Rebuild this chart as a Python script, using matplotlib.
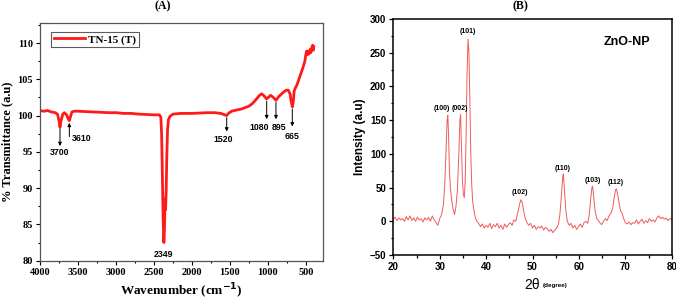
import matplotlib
matplotlib.use("Agg")
import matplotlib.pyplot as plt
from matplotlib.ticker import MultipleLocator

# ---------------- FTIR data (panel A) ----------------
ftir_wn = [4000, 3950, 3900, 3850, 3800, 3770, 3750, 3737, 3725, 3700, 3680, 3650, 3630,
           3614, 3600, 3580, 3550, 3500, 3400, 3300, 3200, 3100, 3000, 2900, 2800, 2700,
           2600, 2500, 2430, 2410, 2400, 2390, 2380, 2370, 2362, 2355, 2348, 2340, 2332,
           2322, 2310, 2290, 2250, 2150, 2000, 1900, 1800, 1700, 1620, 1570, 1545, 1520,
           1480, 1400, 1350, 1300, 1250, 1200, 1150, 1110, 1083, 1050, 1020, 995, 965, 930,
           895, 860, 800, 760, 733, 710, 695, 680, 668, 655, 640, 620, 600, 570, 540, 515,
           500, 490, 480, 470, 460, 447, 435, 425, 412, 405, 398]
ftir_t = [100.7, 100.6, 100.7, 100.5, 100.4, 100.2, 99.3, 98.4, 99.2, 100.2, 100.4, 100.1, 99.6,
          99.3, 99.8, 100.5, 100.6, 100.6, 100.55, 100.5, 100.45, 100.4, 100.4, 100.3, 100.3, 100.2,
          100.15, 100.1, 100.1, 99.8, 97.5, 92.0, 86.0, 82.5, 84.5, 88.5, 87.0, 89.5, 94.0,
          98.0, 99.4, 99.9, 100.2, 100.3, 100.3, 100.35, 100.4, 100.4, 100.3, 100.1, 100.0, 100.3,
          100.6, 100.8, 100.9, 101.1, 101.3, 101.7, 102.3, 102.8, 103.0, 102.7, 102.3, 102.5, 102.8, 102.5,
          102.1, 102.6, 103.2, 103.5, 103.5, 103.0, 102.0, 101.2, 101.8, 103.4, 103.8, 104.2, 104.8, 105.7, 106.6, 107.5,
          108.5, 108.9, 108.4, 108.8, 108.5, 109.1, 108.7, 109.3, 109.7, 109.0, 109.5]

ftir_labels = ["3700", "3610", "1520", "1080", "895", "665", "2349"]

# ---------------- XRD data (panel B) ----------------
xrd_2theta = [20.0, 20.4, 20.8, 21.2, 21.6, 22.0, 22.4, 22.8, 23.2, 23.6, 24.0, 24.4, 24.8, 25.2,
              25.6, 26.0, 26.4, 26.8, 27.2, 27.6, 28.0, 28.4, 28.8, 29.2, 29.6, 30.0, 30.4, 30.8,
              31.1, 31.4, 31.6, 31.75, 31.9, 32.1, 32.3, 32.6, 32.9, 33.2, 33.5, 33.8, 34.1, 34.35,
              34.5, 34.7, 34.9, 35.1, 35.3, 35.5, 35.7, 35.9, 36.1, 36.3, 36.5, 36.7, 36.9, 37.1,
              37.4, 37.7, 38.0, 38.4, 38.8, 39.2, 39.6, 40.0, 40.4, 40.8, 41.2, 41.6, 42.0, 42.4,
              42.8, 43.2, 43.6, 44.0, 44.4, 44.8, 45.2, 45.6, 46.0, 46.4, 46.8, 47.2, 47.5, 47.8,
              48.1, 48.4, 48.8, 49.2, 49.6, 50.0, 50.4, 50.8, 51.2, 51.6, 52.0, 52.4, 52.8, 53.2,
              53.6, 54.0, 54.4, 54.8, 55.2, 55.6, 55.9, 56.2, 56.5, 56.65, 56.9, 57.2, 57.5, 57.9,
              58.3, 58.7, 59.1, 59.5, 59.9, 60.3, 60.7, 61.1, 61.5, 61.9, 62.2, 62.5, 62.8, 62.95,
              63.2, 63.5, 63.8, 64.1, 64.5, 64.9, 65.3, 65.7, 66.1, 66.5, 66.9, 67.3, 67.6, 67.9,
              68.1, 68.4, 68.7, 69.0, 69.3, 69.6, 70.0, 70.4, 70.8, 71.2, 71.6, 72.0, 72.4, 72.8,
              73.2, 73.6, 74.0, 74.4, 74.8, 75.2, 75.6, 76.0, 76.4, 76.8, 77.2, 77.6, 78.0, 78.4,
              78.8, 79.2, 79.6, 80.0]
xrd_int = [3, 6, 1, 5, 2, 4, 0, 7, 2, 8, 1, 5, 0, 6,
           2, 4, -1, 5, 2, 6, 0, 8, 2, -2, -6, 4, 10, 25,
           55, 110, 150, 157, 130, 75, 50, 30, 18, 10, 22, 45, 95, 150,
           158, 110, 60, 40, 35, 60, 130, 220, 270, 250, 180, 100, 55, 30,
           15, 5, 0, -3, -8, -4, -10, -6, -9, -3, -11, -5, -8, -3,
           -10, -6, -12, -4, -9, -5, -2, -6, 2, 0, 12, 25, 32, 28,
           15, 5, -2, -6, -3, -10, -6, -12, -8, -10, -7, -13, -9, -11,
           -15, -12, -17, -13, -10, -4, 10, 35, 65, 70, 45, 15, 0, -6,
           -3, -10, -6, -12, -8, -4, -9, -2, 0, -3, 8, 30, 50, 52,
           35, 15, 5, 2, -2, -5, 0, 4, 1, 8, 12, 20, 35, 47,
           48, 38, 25, 15, 12, 5, -2, -4, -1, -5, -2, -3, 2, -4,
           0, 3, -3, 1, -2, 4, 0, 2, -1, 5, 8, 4, 6, 3,
           5, 1, 4, 3]

hkl_labels = ["(100)", "(002)", "(101)", "(102)", "(110)", "(103)", "(112)"]

# ---------------- Figure ----------------
fig = plt.figure(figsize=(6.76, 3.02), dpi=100)

serif = "Liberation Serif"
sans = "Liberation Sans"

# ---- Panel A ----
axA = fig.add_axes([40/676, 1-260.7/302, 283/676, 238/302])
axA.plot(ftir_wn, ftir_t, color="#ff1a1a", lw=2.0, label="TN-15 (T)")
axA.set_xlim(4000, 276)
axA.set_ylim(80, 112.8)
axA.xaxis.set_major_locator(MultipleLocator(500))
axA.xaxis.set_minor_locator(MultipleLocator(250))
axA.yaxis.set_major_locator(MultipleLocator(5))
axA.yaxis.set_minor_locator(MultipleLocator(2.5))
axA.tick_params(which="both", direction="out", top=False, right=False, width=0.8)
axA.tick_params(which="major", length=3, pad=2)
axA.tick_params(which="minor", length=1.5)
for lab in axA.get_xticklabels() + axA.get_yticklabels():
    lab.set_fontfamily(serif)
    lab.set_fontweight("bold")
    lab.set_fontsize(7.5)
for s in axA.spines.values():
    s.set_color("#555555")
    s.set_linewidth(0.9)
axA.set_xlabel("Wavenumber (cm$^{\\mathbf{-1}}$)", fontfamily=serif, fontweight="bold",
               fontsize=9.5, labelpad=3.5)
axA.set_ylabel("% Transmittance (a.u)", fontfamily=serif, fontweight="bold",
               fontsize=9, labelpad=3)
leg = axA.legend(loc="upper left", prop={"family": serif, "weight": "bold", "size": 8},
                 fancybox=False, edgecolor="#333333", handlelength=2.8, borderpad=0.25,
                 handletextpad=0.3, bbox_to_anchor=(0.02, 0.985))
leg.get_frame().set_linewidth(0.8)

ann_kw = dict(fontfamily=sans, fontweight="bold", fontsize=6.3, ha="center", va="center")
arrow = dict(arrowstyle="-|>", color="black", lw=0.7, mutation_scale=5, shrinkA=0, shrinkB=0)
axA.annotate("", xy=(3737, 95.8), xytext=(3737, 98.2), arrowprops=arrow)
axA.text(3737, 94.9, ftir_labels[0], **ann_kw)
axA.annotate("", xy=(3614, 99.0), xytext=(3614, 97.1), arrowprops=arrow)
axA.text(3583, 96.8, ftir_labels[1], fontfamily=sans, fontweight="bold", fontsize=6.3,
         ha="left", va="center")
axA.annotate("", xy=(1543, 97.8), xytext=(1543, 99.7), arrowprops=arrow)
axA.text(1592, 96.7, ftir_labels[2], **ann_kw)
axA.annotate("", xy=(1017, 99.5), xytext=(1017, 102.0), arrowprops=arrow)
axA.text(1114, 98.3, ftir_labels[3], **ann_kw)
axA.annotate("", xy=(895, 99.5), xytext=(895, 101.8), arrowprops=arrow)
axA.text(859, 98.3, ftir_labels[4], **ann_kw)
axA.annotate("", xy=(680, 98.5), xytext=(680, 100.9), arrowprops=arrow)
axA.text(680, 97.1, ftir_labels[5], **ann_kw)
axA.text(2378, 80.9, ftir_labels[6], **ann_kw)

fig.text(162.5/676, 1-6/302, "(A)", fontfamily=serif, fontweight="bold", fontsize=8.5,
         ha="center", va="center")

# ---- Panel B ----
axB = fig.add_axes([393.3/676, 1-255/302, 278.4/676, 236/302])
axB.plot(xrd_2theta, xrd_int, color="#f05a5a", lw=0.7)
axB.set_xlim(20, 80)
axB.set_ylim(-50, 300)
axB.xaxis.set_major_locator(MultipleLocator(10))
axB.xaxis.set_minor_locator(MultipleLocator(5))
axB.yaxis.set_major_locator(MultipleLocator(50))
axB.yaxis.set_minor_locator(MultipleLocator(25))
axB.tick_params(which="both", direction="out", top=False, right=False, width=0.9)
axB.tick_params(which="major", length=3, pad=2)
axB.tick_params(which="minor", length=1.8)
for lab in axB.get_xticklabels() + axB.get_yticklabels():
    lab.set_fontfamily(sans)
    lab.set_fontweight("bold")
    lab.set_fontsize(7)
for s in axB.spines.values():
    s.set_color("black")
    s.set_linewidth(1.1)
axB.set_ylabel("Intensity (a.u)", fontfamily=sans, fontweight="bold", fontsize=8.5, labelpad=3)

hkl_kw = dict(fontfamily=sans, fontweight="bold", fontsize=5, ha="center", va="center")
axB.text(30.4, 168, hkl_labels[0], **hkl_kw)
axB.text(34.4, 168, hkl_labels[1], **hkl_kw)
axB.text(36.0, 281, hkl_labels[2], **hkl_kw)
axB.text(47.3, 43, hkl_labels[3], **hkl_kw)
axB.text(56.5, 79, hkl_labels[4], **hkl_kw)
axB.text(62.9, 60, hkl_labels[5], **hkl_kw)
axB.text(68.0, 57, hkl_labels[6], **hkl_kw)
axB.text(70.3, 266, "ZnO-NP", fontfamily=sans, fontweight="bold", fontsize=9,
         ha="center", va="center")

fig.text(532.5/676, 1-285/302, "2\u03b8", fontfamily=sans, fontsize=10,
         ha="center", va="center")
fig.text(542.7/676, 1-285/302, "(degree)", fontfamily=sans, fontweight="bold", fontsize=4.5,
         ha="left", va="center")
fig.text(520/676, 1-6/302, "(B)", fontfamily=serif, fontweight="bold", fontsize=8.5,
         ha="center", va="center")

fig.savefig("out.png", dpi=100)
